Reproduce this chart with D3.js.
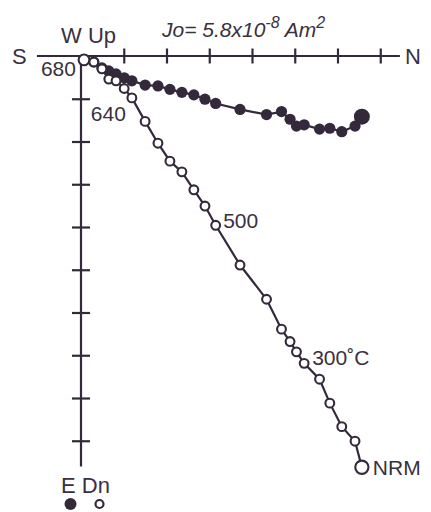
<!DOCTYPE html>
<html>
<head>
<meta charset="utf-8">
<script src="https://cdn.jsdelivr.net/npm/d3@7"></script>
<style>
  html, body { margin: 0; padding: 0; background: #fff; }
  svg { display: block; }
  text { font-family: "Liberation Sans", Arial, Helvetica, sans-serif; fill: #3a3040; }
</style>
</head>
<body>
<svg id="chart" width="431" height="512"></svg>
<script>
// Orthogonal vector (Zijderveld) projection of thermal demagnetization steps,
// listed from the 680 °C step back to the NRM. Units: one axis division.
const northComp = [0.07, 0.30, 0.49, 0.65, 0.82, 1.01, 1.19, 1.50, 1.80, 2.08,
                   2.36, 2.64, 2.90, 3.15, 3.72, 4.34, 4.69, 4.89, 5.04, 5.22,
                   5.58, 5.82, 6.10, 6.41, 6.57];
const eastComp  = [0.09, 0.14, 0.28, 0.35, 0.42, 0.51, 0.58, 0.68, 0.70, 0.78,
                   0.85, 0.91, 1.01, 1.11, 1.25, 1.37, 1.30, 1.48, 1.64, 1.61,
                   1.71, 1.69, 1.77, 1.64, 1.42];
const downComp  = [0.09, 0.14, 0.30, 0.54, 0.58, 0.76, 0.98, 1.53, 2.04, 2.46,
                   2.71, 3.13, 3.51, 3.96, 4.89, 5.69, 6.39, 6.68, 6.92, 7.19,
                   7.56, 8.12, 8.67, 9.01, 9.62];
const stepLabels = ["680", "640", "500", "300˚C", "NRM"];
const stepLabelIndex = [0, 6, 13, 19, 24];
const hTicks = [1, 2, 3, 4, 5, 6, 7];
const vTicks = [1, 2, 3, 4, 5, 6, 7, 8, 9];

const ink = "#33293a";
const svg = d3.select("#chart");

const unit = 42.75;
const x = d3.scaleLinear().domain([0, 1]).range([81, 81 + unit]);
const y = d3.scaleLinear().domain([0, 1]).range([56, 56 + unit]);

// Horizontal (N-S) axis
const xAxis = d3.axisBottom(x).tickValues(hTicks).tickFormat("").tickSizeOuter(0);
const gx = svg.append("g").attr("transform", `translate(0,${y(0)})`).call(xAxis);
gx.select(".domain").remove();
gx.selectAll(".tick line").attr("y1", -7.5).attr("y2", 7.5)
  .attr("stroke", ink).attr("stroke-width", 2.2);
gx.append("line")
  .attr("x1", x(-1.03)).attr("x2", x(7.46))
  .attr("stroke", ink).attr("stroke-width", 2.2);

// Vertical (W/Up - E/Dn) axis
const yAxis = d3.axisLeft(y).tickValues(vTicks).tickFormat("").tickSizeOuter(0);
const gy = svg.append("g").attr("transform", `translate(${x(0)},0)`).call(yAxis);
gy.select(".domain").remove();
gy.selectAll(".tick line").attr("x1", -9).attr("x2", 9)
  .attr("stroke", ink).attr("stroke-width", 2.2);
gy.append("line")
  .attr("y1", y(0)).attr("y2", y(9.6))
  .attr("stroke", ink).attr("stroke-width", 2.2);

// Axis direction labels
const lab = (tx, ty, s, size, anchor) =>
  svg.append("text").attr("x", tx).attr("y", ty).attr("font-size", size)
     .attr("text-anchor", anchor || "start").text(s);
lab(12, 64, "S", 22);
lab(405, 64, "N", 22);
lab(61, 43, "W Up", 22);
lab(61, 493, "E Dn", 22);

// Moment annotation
const jo = svg.append("text").attr("x", 162).attr("y", 37)
  .attr("font-size", 21).attr("font-style", "italic");
jo.append("tspan").text("Jo= 5.8x10");
jo.append("tspan").attr("font-size", 16).attr("dy", -9).text("-8");
jo.append("tspan").attr("dy", 9).text(" Am");
jo.append("tspan").attr("font-size", 16).attr("dy", -9).text("2");

// Data
const steps = northComp.map((n, i) => ({ n, e: eastComp[i], d: downComp[i], i }));
const last = steps.length - 1;

const lineH = d3.line().x(p => x(p.n)).y(p => y(p.e));
const lineV = d3.line().x(p => x(p.n)).y(p => y(p.d));

// Horizontal projection: filled symbols
svg.append("path").attr("d", lineH(steps))
  .attr("fill", "none").attr("stroke", ink).attr("stroke-width", 2.2);
svg.append("g").selectAll("circle").data(steps).join("circle")
  .attr("cx", p => x(p.n)).attr("cy", p => y(p.e))
  .attr("r", p => p.i === last ? 8 : 5.6)
  .attr("fill", ink);

// Vertical projection: open symbols
svg.append("path").attr("d", lineV(steps))
  .attr("fill", "none").attr("stroke", ink).attr("stroke-width", 2.2);
svg.append("g").selectAll("circle").data(steps).join("circle")
  .attr("cx", p => x(p.n)).attr("cy", p => y(p.d))
  .attr("r", p => p.i === last ? 6.6 : (p.i === 0 ? 5.4 : 4.4))
  .attr("fill", "#fff").attr("stroke", ink).attr("stroke-width", 2.1);

// Temperature step labels beside the open symbols
const labelOffsets = [[-8, 16, "end"], [-41, 23, "start"], [7.5, 3, "start"],
                      [8, 2, "start"], [11, 8, "start"]];
stepLabels.forEach((t, k) => {
  const p = steps[stepLabelIndex[k]];
  const [dx, dy, anchor] = labelOffsets[k];
  lab(x(p.n) + dx, y(p.d) + dy, t, 21, anchor);
});

// Symbol key
svg.append("circle").attr("cx", 70.5).attr("cy", 504).attr("r", 6).attr("fill", ink);
svg.append("circle").attr("cx", 99.5).attr("cy", 504).attr("r", 4)
  .attr("fill", "#fff").attr("stroke", ink).attr("stroke-width", 2.2);
</script>
</body>
</html>
